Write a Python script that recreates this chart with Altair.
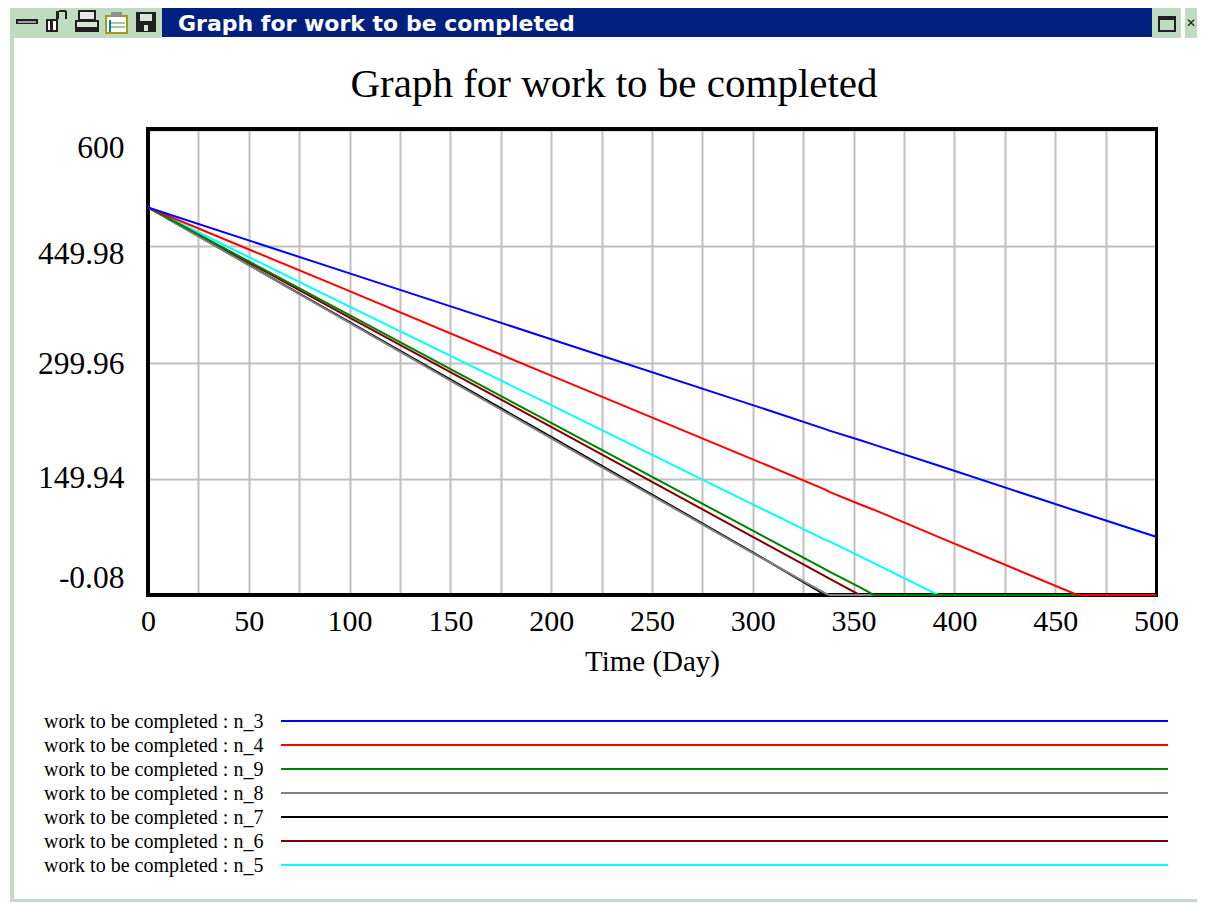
import altair as alt
import pandas as pd

TITLE = "Graph for work to be completed"
SERIES = ["n_3", "n_4", "n_9", "n_8", "n_7", "n_6", "n_5"]
COLORS = ["#0000ff", "#ff0000", "#008000", "#808080", "#000000", "#800000", "#00ffff"]
TIMES = [0, 100, 200, 300, 336, 338, 353, 360, 392, 461, 500]
VALUES = {
    "n_3": [500, 415, 330, 245, 214, 212, 200, 194, 167, 108, 75],
    "n_4": [500, 392, 283, 175, 136, 133, 117, 110, 75, 0, 0],
    "n_5": [500, 372, 245, 117, 71, 69, 50, 41, 0, 0, 0],
    "n_6": [500, 358, 217, 75, 24, 21, 0, 0, 0, 0, 0],
    "n_7": [500, 352, 204, 55, 0, 0, 0, 0, 0, 0, 0],
    "n_8": [500, 351, 202, 54, 2, 0, 0, 0, 0, 0, 0],
    "n_9": [500, 361, 222, 83, 33, 30, 10, 0, 0, 0, 0],
}
Y_TICKS = [-0.08, 149.94, 299.96, 449.98, 600]
X_GRID = list(range(0, 501, 25))

PX0, PY0 = 148, 130
W, H = 1008, 465
SERIF = "Liberation Serif"
FRAME = "#c0dcc0"
NAVY = "#00207f"
INK = "#202020"


def rect(x0, y0, x1, y1, color):
    return alt.Chart().mark_rect(color=color).encode(
        x=alt.value(x0 - PX0), x2=alt.value(x1 - PX0),
        y=alt.value(y0 - PY0), y2=alt.value(y1 - PY0))


def label(text, x, y, size, color="black", font=SERIF, weight="normal", align="left"):
    return alt.Chart().mark_text(
        text=text, font=font, fontSize=size, color=color, fontWeight=weight,
        align=align, baseline="middle").encode(x=alt.value(x - PX0), y=alt.value(y - PY0))


chrome = [
    rect(10, 8, 14, 903, FRAME),
    rect(10, 8, 162, 38, FRAME),
    rect(10, 899, 1197, 903, FRAME),
    rect(162, 8, 1152, 37, NAVY),
    rect(1152, 8, 1197, 38, FRAME),
    # minimise
    rect(16, 19, 38, 24, INK), rect(18, 21, 36, 23, "#a0a0a0"),
    # lock
    rect(46, 19, 58, 32, INK), rect(48, 21, 50, 30, "white"), rect(53, 21, 56, 30, "white"),
    rect(56, 11, 59, 19, INK), rect(59, 10, 66, 12, INK), rect(65, 11, 67, 19, INK),
    # printer
    rect(78, 10, 96, 20, INK), rect(80, 12, 94, 19, "#e8e8e8"),
    rect(75, 20, 99, 32, INK), rect(77, 22, 97, 27, "#d8e8d8"),
    # clipboard
    rect(105, 15, 128, 34, "#a09a20"), rect(107, 17, 126, 32, "white"),
    rect(111, 12, 122, 17, "#909090"), rect(109, 20, 111, 32, "#108080"),
    rect(111, 22, 125, 24, "#a0c8a0"), rect(111, 26, 125, 28, "#a0c8a0"),
    # floppy
    rect(136, 12, 156, 32, INK), rect(140, 14, 152, 21, "#d8e8d8"), rect(144, 25, 148, 31, "#d8e8d8"),
    label(TITLE, 178, 24, 22, "white", "DejaVu Sans", "bold"),
    # maximise
    rect(1158, 16, 1176, 32, INK), rect(1160, 20, 1174, 30, FRAME),
    rect(1181, 8, 1185, 38, "white"),
    label("\u2715", 1186, 23, 12, "#101010", "DejaVu Sans", "bold"),
]

# the heavy plot border sits under the series and over the grid
border = [
    rect(146, 127, 1158, 131, "black"),
    rect(146, 593, 1158, 597, "black"),
    rect(146, 127, 150, 597, "black"),
    rect(1155, 127, 1158, 597, "black"),
]

df = pd.DataFrame({"t": TIMES, **VALUES})

x_enc = alt.X("t:Q", scale=alt.Scale(domain=[0, 500], nice=False), axis=alt.Axis(
    values=X_GRID, title="Time (Day)", labelExpr="datum.value % 50 === 0 ? '' + datum.value : ''",
    grid=True, gridColor="#c0c0c0", gridWidth=2, ticks=False, domain=False,
    labelFont=SERIF, labelFontSize=30, labelColor="black", labelPadding=11, labelOverlap=False,
    labelFlush=False, labelBound=False,
    labelFontWeight="normal", titleFont=SERIF, titleFontSize=29, titleColor="black",
    titleFontWeight="normal", titlePadding=11))

y_enc = alt.Y("v:Q", scale=alt.Scale(domain=[-0.08, 600], nice=False, zero=False), axis=alt.Axis(
    values=Y_TICKS, title=None, labelExpr="'' + datum.value",
    grid=True, gridColor="#c0c0c0", gridWidth=2, ticks=False, domain=False,
    labelFont=SERIF, labelFontSize=31.5, labelColor="black", labelPadding=24, labelOverlap=False,
    labelFlush=False, labelBound=False,
    labelOffset=alt.expr("datum.value === 600 ? 18 : datum.value === 449.98 ? 8 : datum.value === 299.96 ? 2 : datum.value === -0.08 ? -17 : 0")))

# the list order is the legend order; the window draws it back to front
lines = []
for name in reversed(SERIES):
    color = COLORS[SERIES.index(name)]
    d = df[["t", name]].rename(columns={name: "v"})
    lines.append(alt.Chart(d).mark_line(color=color, strokeWidth=2, clip=False, interpolate="linear")
                 .encode(x=x_enc, y=y_enc))

legend = []
for i, name in enumerate(SERIES):
    yy = 721 + 24 * i
    legend.append(label(f"work to be completed : {name}", 44, yy + 1, 20))
    legend.append(alt.Chart().mark_rule(color=COLORS[i], strokeWidth=2).encode(
        x=alt.value(281 - PX0), x2=alt.value(1168 - PX0), y=alt.value(yy - PY0)))

chart = alt.layer(*border, *lines, *legend, *chrome, label(TITLE, 614, 85, 41, align="center")).properties(
    width=W, height=H,
    padding={"left": 140, "top": 122, "right": 41, "bottom": 307},
    autosize=alt.AutoSizeParams(type="none"),
    background="white",
).configure_view(stroke=None)

chart.save("out.html", embed_options={"renderer": "svg", "actions": False})
